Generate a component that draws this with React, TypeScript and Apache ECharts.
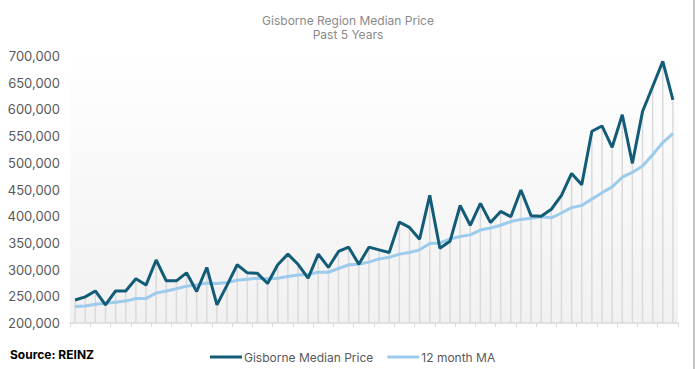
import React, { useEffect, useRef } from "react";
import * as echarts from "echarts";

const titleLines = ["Gisborne Region Median Price", "Past 5 Years"];
const seriesNames = ["Gisborne Median Price", "12 month MA"];
const sourceText = "Source: REINZ";

const medianPrice = [
  243000, 249000, 260000, 234000, 260000, 260000, 283000, 271000, 318000, 279000,
  279000, 294000, 259000, 304000, 234000, 271000, 309000, 294000, 293000, 274000,
  309000, 329000, 310000, 284000, 329000, 304000, 334000, 342000, 310000, 342000,
  337000, 332000, 389000, 379000, 357000, 439000, 340000, 353000, 420000, 383000,
  424000, 388000, 409000, 399000, 449000, 401000, 400000, 413000, 439000, 480000,
  459000, 559000, 569000, 529000, 590000, 499000, 596000, 643000, 690000, 618000,
];

const movingAverage = [
  231000, 232000, 235000, 237000, 239000, 241000, 246000, 246000, 256000, 260000,
  264000, 269000, 271000, 275000, 274000, 276000, 280000, 282000, 284000, 283000,
  284000, 287000, 290000, 291000, 295000, 295000, 302000, 309000, 310000, 314000,
  320000, 323000, 329000, 332000, 337000, 349000, 350000, 357000, 362000, 365000,
  374000, 378000, 383000, 390000, 394000, 396000, 399000, 397000, 406000, 416000,
  420000, 432000, 444000, 455000, 473000, 482000, 494000, 515000, 538000, 555000,
];

const categories = medianPrice.map((_, i) => String(i + 1));

const yMin = 200000;
const yMax = 700000;
const yInterval = 50000;

export default function App() {
  const ref = useRef<HTMLDivElement>(null);

  useEffect(() => {
    if (!ref.current) return;
    const chart = echarts.init(ref.current, undefined, { renderer: "svg" });
    const font = "Inter, 'Open Sans', sans-serif";
    chart.setOption({
      animation: false,
      backgroundColor: "#ffffff",
      title: {
        text: titleLines.join("\n"),
        left: "center",
        top: 8,
        textStyle: {
          fontFamily: font,
          fontSize: 12,
          fontWeight: "normal",
          color: "#8a8a8a",
          lineHeight: 14,
        },
      },
      legend: {
        left: 205,
        top: 346,
        icon: "rect",
        itemWidth: 32,
        itemHeight: 3,
        itemGap: 14,
        textStyle: { fontFamily: font, fontSize: 12, color: "#595959", padding: [0, 0, 0, -3] },
        data: seriesNames,
      },
      grid: {
        left: 70,
        right: 18,
        top: 56,
        bottom: 46,
        show: true,
        borderWidth: 0,
        backgroundColor: new echarts.graphic.LinearGradient(0, 0, 0, 1, [
          { offset: 0, color: "#ffffff" },
          { offset: 0.2, color: "#fcfcfc" },
          { offset: 1, color: "#f1f1f1" },
        ]),
      },
      xAxis: {
        type: "category",
        data: categories,
        boundaryGap: true,
        axisLine: { show: true, lineStyle: { color: "#d9d9d9", width: 1.5 } },
        axisTick: { show: true, length: 4, lineStyle: { color: "#d9d9d9", width: 1 } },
        axisLabel: { show: false },
        splitLine: { show: false },
      },
      yAxis: {
        type: "value",
        min: yMin,
        max: yMax,
        interval: yInterval,
        axisLine: { show: false },
        axisTick: { show: false },
        splitLine: { show: false },
        axisLabel: {
          margin: 10,
          fontFamily: font,
          fontSize: 13,
          color: "#595959",
          formatter: (v: number) => v.toLocaleString("en-US"),
        },
      },
      graphic: [
        {
          type: "text",
          left: 10,
          top: 348,
          style: {
            text: sourceText,
            fontFamily: font,
            fontSize: 12,
            fontWeight: "bold",
            fill: "#000000",
          },
        },
        {
          type: "line",
          shape: { x1: 694, y1: 0, x2: 694, y2: 369 },
          style: { stroke: "#8c8c8c", lineWidth: 1 },
        },
      ],
      series: [
        {
          name: "drops",
          type: "custom",
          silent: true,
          z: 1,
          data: medianPrice.map((v, i) => [i, v]),
          renderItem: (params: any, api: any) => {
            const top = api.coord([api.value(0), api.value(1)]);
            const bottom = api.coord([api.value(0), yMin]);
            return {
              type: "line",
              shape: { x1: top[0], y1: top[1], x2: bottom[0], y2: bottom[1] },
              style: { stroke: "#dadada", lineWidth: 1.5 },
            };
          },
        },
        {
          name: seriesNames[1],
          type: "line",
          data: movingAverage,
          symbol: "none",
          z: 2,
          lineStyle: { color: "#9ccbec", width: 3 },
          itemStyle: { color: "#9ccbec" },
        },
        {
          name: seriesNames[0],
          type: "line",
          data: medianPrice,
          symbol: "none",
          z: 3,
          lineStyle: { color: "#125c78", width: 3 },
          itemStyle: { color: "#125c78" },
        },
      ],
    });
    return () => chart.dispose();
  }, []);

  return (
    <div
      ref={ref}
      style={{ position: "fixed", left: 0, top: 0, width: 696, height: 369 }}
    />
  );
}
